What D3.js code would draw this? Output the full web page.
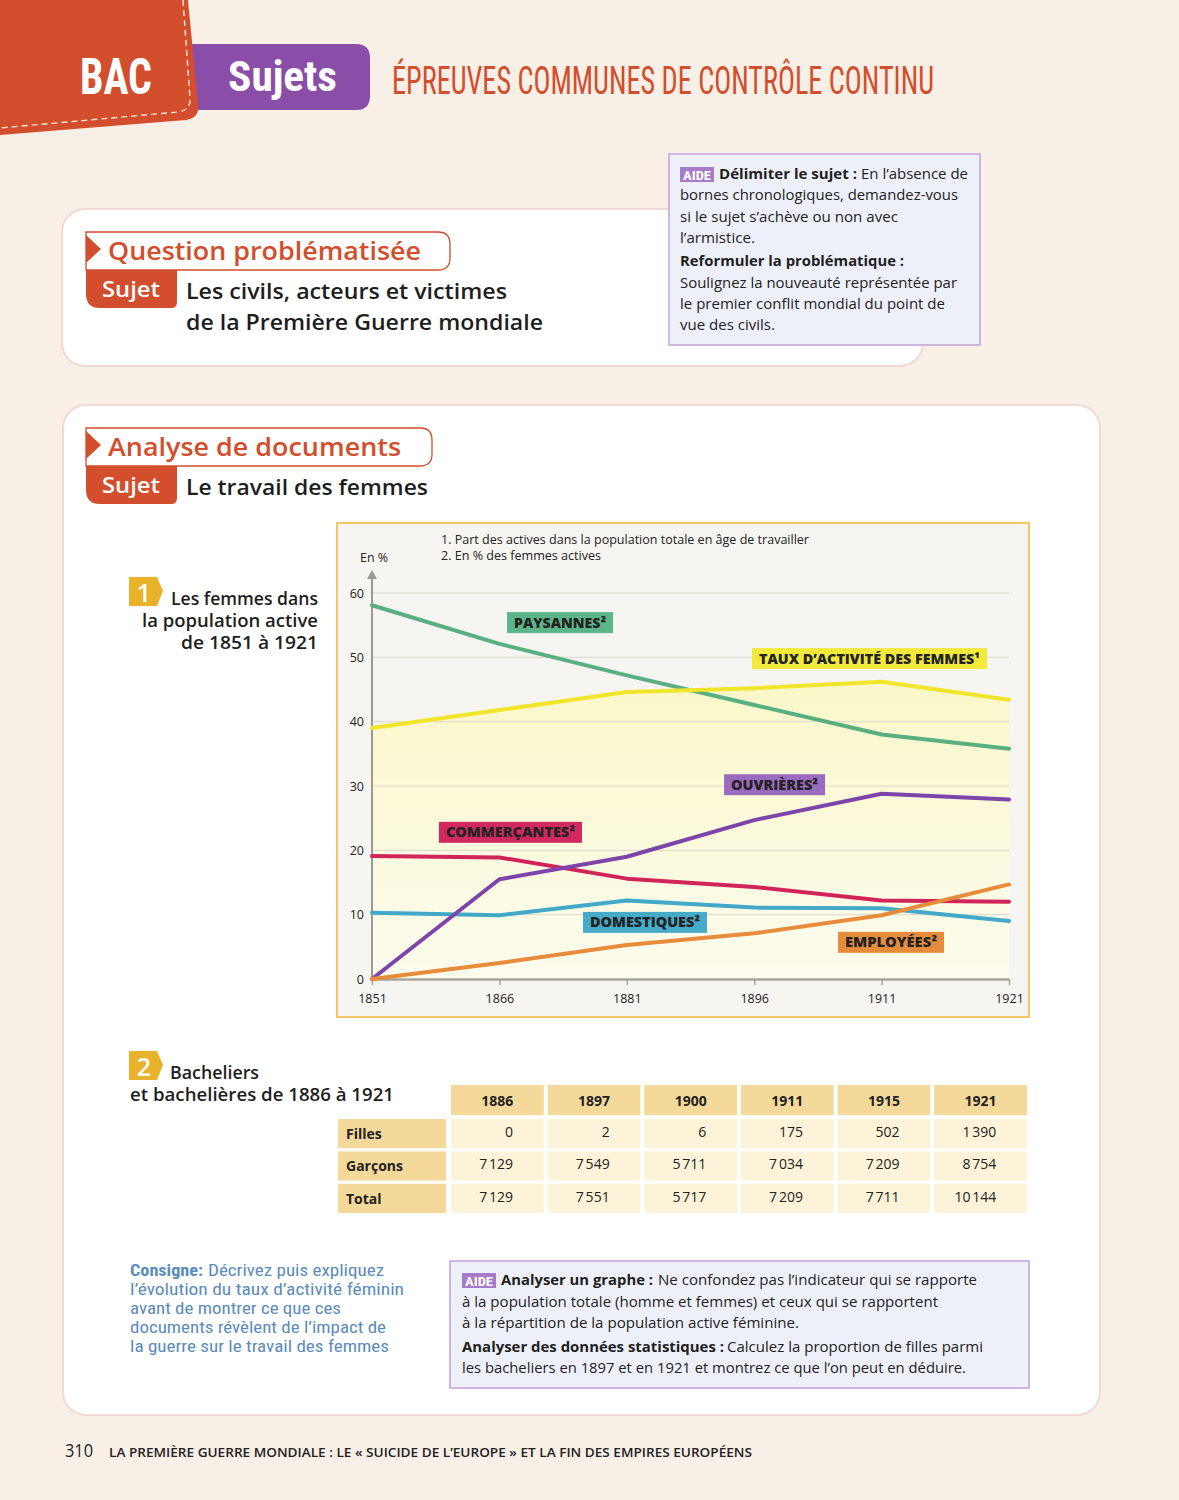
<!DOCTYPE html>
<html><head><meta charset="utf-8">
<script src="https://cdn.jsdelivr.net/npm/d3@7"></script>
<style>
html,body{margin:0;padding:0;background:#f8efe6;}
svg{display:block;}
</style></head>
<body>
<svg id="page" width="1179" height="1500"></svg>
<script>
// ---------- DATA ----------
const years = ["1851","1866","1881","1896","1911","1921"];
const paysannes    = [58.1, 52.1, 47.2, 42.6, 38.0, 35.8];
const tauxActivite = [39.0, 41.8, 44.6, 45.2, 46.2, 43.4];
const commercantes = [19.1, 18.9, 15.6, 14.3, 12.2, 12.0];
const domestiques  = [10.3, 9.9, 12.2, 11.1, 11.0, 9.0];
const ouvrieres    = [0.0, 15.5, 19.0, 24.7, 28.8, 27.9];
const employees    = [0.0, 2.5, 5.3, 7.1, 9.9, 14.7];
const yTicks = [0,10,20,30,40,50,60];

const tableYears = ["1886","1897","1900","1911","1915","1921"];
const rowLabels = ["Filles","Garçons","Total"];
const filles  = [0, 2, 6, 175, 502, 1390];
const garcons = [7129, 7549, 5711, 7034, 7209, 8754];
const totaux  = [7129, 7551, 5717, 7209, 7711, 10144];

const seriesNames = ["PAYSANNES²","TAUX D’ACTIVITÉ DES FEMMES¹","COMMERÇANTES²","DOMESTIQUES²","OUVRIÈRES²","EMPLOYÉES²"];

// ---------- HELPERS ----------
const svg = d3.select("#page");
const SANS = "'Open Sans','Noto Sans',sans-serif";
const COND = "'Roboto Condensed','Liberation Sans Narrow','Roboto',sans-serif";
function txt(g, x, y, s, o={}) {
  const t = g.append("text").attr("x", x).attr("y", y).text(s)
    .attr("font-family", o.family || SANS)
    .attr("font-size", o.size || 15)
    .attr("font-weight", o.weight || 400)
    .attr("fill", o.fill || "#222");
  if (o.anchor) t.attr("text-anchor", o.anchor);
  if (o.len) t.attr("textLength", o.len).attr("lengthAdjust", "spacingAndGlyphs");
  return t;
}
const RED = "#d24e2c";

// ---------- HEADER ----------
svg.append("rect").attr("x",0).attr("y",0).attr("width",1179).attr("height",1500).attr("fill","#f8efe6");
svg.append("path").attr("d","M150,44 H356 Q370,44 370,58 V96 Q370,110 356,110 H150 Z").attr("fill","#8b4ea8");
svg.append("path").attr("d","M0,0 H188 L198,104 Q200,118 186,120 L0,135 Z").attr("fill",RED);
svg.append("path").attr("d","M183,0 L190,98 Q191,110 178,112 L0,128").attr("fill","none")
  .attr("stroke","#fbe3d8").attr("stroke-width",1.4).attr("stroke-dasharray","6,4");
txt(svg, 80, 94, "BAC", {family:COND, size:50, weight:700, fill:"#fff", len:72});
txt(svg, 228, 91, "Sujets", {family:COND, size:42, weight:700, fill:"#fff", len:109});
txt(svg, 392, 94, "ÉPREUVES COMMUNES DE CONTRÔLE CONTINU", {family:COND, size:38, weight:400, fill:RED, len:542});

// ---------- CARD 1 ----------
function card(x,y,w,h){
  svg.append("rect").attr("x",x-2).attr("y",y-2).attr("width",w+4).attr("height",h+4).attr("rx",24)
    .attr("fill","#f2d9d6");
  svg.append("rect").attr("x",x).attr("y",y).attr("width",w).attr("height",h).attr("rx",22).attr("fill","#fff");
}
card(63,210,859,155);
function sectionHead(y, title, titleLen, boxRight, subj1, subj1Len, subj2, subj2Len){
  const g = svg.append("g");
  g.append("path").attr("d",`M86,${y} H${boxRight-12} Q${boxRight},${y} ${boxRight},${y+12} V${y+26} Q${boxRight},${y+38} ${boxRight-12},${y+38} H86 Z`)
    .attr("fill","#fff").attr("stroke",RED).attr("stroke-width",1.3);
  g.append("path").attr("d",`M86,${y+3} L101,${y+17} L86,${y+31} Z`).attr("fill",RED);
  txt(g, 108, y+28, title, {size:26, weight:600, fill:RED, len:titleLen});
  g.append("path").attr("d",`M86,${y+38} H177 V${y+70} Q177,${y+76} 171,${y+76} H100 Q86,${y+76} 86,${y+62} Z`).attr("fill",RED);
  txt(g, 102, y+65, "Sujet", {size:22, weight:600, fill:"#fff", len:58});
  txt(g, 186, y+67, subj1, {size:22, weight:600, fill:"#1e1e1e", len:subj1Len});
  if (subj2) txt(g, 186, y+98, subj2, {size:22, weight:600, fill:"#1e1e1e", len:subj2Len});
}
sectionHead(232, "Question problématisée", 313, 450, "Les civils, acteurs et victimes", 321, "de la Première Guerre mondiale", 357);

// AIDE box 1
function aideBadge(x,y){
  svg.append("rect").attr("x",x).attr("y",y).attr("width",34).attr("height",15).attr("fill","#a77bc9");
  txt(svg, x+17, y+12.5, "AIDE", {family:COND, size:13, weight:700, fill:"#fff", anchor:"middle", len:28});
}
svg.append("rect").attr("x",669).attr("y",154).attr("width",311).attr("height",191).attr("fill","#eef0f9")
  .attr("stroke","#c3a2d9").attr("stroke-width",1.5);
aideBadge(680,167);
txt(svg, 719, 179, "Délimiter le sujet :", {size:15, weight:700, fill:"#1e1e1e", len:138});
txt(svg, 861, 179, "En l’absence de", {size:15, fill:"#222", len:107});
txt(svg, 680, 200, "bornes chronologiques, demandez-vous", {size:15, fill:"#222", len:278});
txt(svg, 680, 222, "si le sujet s’achève ou non avec", {size:15, fill:"#222", len:218});
txt(svg, 680, 243, "l’armistice.", {size:15, fill:"#222", len:75});
txt(svg, 680, 266, "Reformuler la problématique :", {size:15, weight:700, fill:"#1e1e1e", len:224});
txt(svg, 680, 288, "Soulignez la nouveauté représentée par", {size:15, fill:"#222", len:277});
txt(svg, 680, 309, "le premier conflit mondial du point de", {size:15, fill:"#222", len:265});
txt(svg, 680, 330, "vue des civils.", {size:15, fill:"#222", len:95});

// ---------- CARD 2 ----------
card(64,406,1035,1008);
sectionHead(428, "Analyse de documents", 293, 432, "Le travail des femmes", 242);

function numBadge(x,y,n){
  svg.append("path").attr("d",`M${x},${y} H${x+28} L${x+34},${y+14} L${x+28},${y+29} H${x} Z`).attr("fill","#e8b22a");
  txt(svg, x+15, y+25, n, {size:25, weight:600, fill:"#fff", anchor:"middle"});
}
numBadge(129,577,"1");
txt(svg, 318, 605, "Les femmes dans", {size:18, weight:600, fill:"#1e1e1e", anchor:"end", len:147});
txt(svg, 318, 627, "la population active", {size:18, weight:600, fill:"#1e1e1e", anchor:"end", len:176});
txt(svg, 318, 649, "de 1851 à 1921", {size:18, weight:600, fill:"#1e1e1e", anchor:"end", len:137});

// ---------- CHART ----------
const chart = svg.append("g");
chart.append("rect").attr("x",337).attr("y",523).attr("width",692).attr("height",494)
  .attr("fill","#f6f5f2").attr("stroke","#f3c766").attr("stroke-width",2);

const x = d3.scalePoint().domain(years).range([372,1009]);
const xi = d3.scaleLinear().domain([0, years.length-1]).range([372,1009]);
const y = d3.scaleLinear().domain([0,60]).range([979,593]);

const defs = svg.append("defs");
const grad = defs.append("linearGradient").attr("id","areaGrad").attr("x1",0).attr("y1",0).attr("x2",0).attr("y2",1);
grad.append("stop").attr("offset","0%").attr("stop-color","#faf7c9");
grad.append("stop").attr("offset","100%").attr("stop-color","#fdfcee");

const area = d3.area().x((d,i)=>x(years[i])).y0(y(0)).y1(d=>y(d));
chart.append("path").datum(tauxActivite).attr("d",area).attr("fill","url(#areaGrad)");

// gridlines
chart.append("g").selectAll("line").data(yTicks.filter(d=>d>0)).join("line")
  .attr("x1",372).attr("x2",1009).attr("y1",d=>y(d)).attr("y2",d=>y(d))
  .attr("stroke","#d9d6cd").attr("stroke-width",1);

// y axis
const yAxis = d3.axisLeft(y).tickValues(yTicks).tickSize(0).tickPadding(8);
const gy = chart.append("g").attr("transform","translate(372,0)").call(yAxis);
gy.select(".domain").remove();
gy.selectAll("text").attr("font-family",SANS).attr("font-size",12.5).attr("fill","#222");
chart.append("line").attr("x1",372).attr("x2",372).attr("y1",979).attr("y2",576).attr("stroke","#9c9991").attr("stroke-width",2);
chart.append("path").attr("d","M367,579 L372,570 L377,579 Z").attr("fill","#9c9991");
txt(chart, 360, 562, "En %", {size:12, fill:"#222", len:28});

// x axis
const xAxis = d3.axisBottom(x).tickSize(6).tickPadding(9);
const gx = chart.append("g").attr("transform",`translate(0,${y(0)})`).call(xAxis);
gx.select(".domain").attr("stroke","#a7a49c").attr("stroke-width",2.5).attr("d","M372,0.5H1009");
gx.selectAll(".tick line").attr("stroke","#a7a49c").attr("stroke-width",1.5);
gx.selectAll("text").attr("font-family",SANS).attr("font-size",12.5).attr("fill","#222");

// notes
txt(chart, 441, 544, "1. Part des actives dans la population totale en âge de travailler", {size:12.5, fill:"#222", len:368});
txt(chart, 441, 560, "2. En % des femmes actives", {size:12.5, fill:"#222", len:160});

// lines
const series = [
  {name:seriesNames[0], values:paysannes,    color:"#5aaf81", box:"#5cb68a", at:[1.476,55.4], w:106},
  {name:seriesNames[1], values:tauxActivite, color:"#f0e52a", box:"#f3e93a", at:[3.905,49.8], w:235},
  {name:seriesNames[2], values:commercantes, color:"#d0245b", box:"#d22860", at:[1.087,22.8], w:143},
  {name:seriesNames[3], values:domestiques,  color:"#42a9c8", box:"#45abc9", at:[2.143,8.8],  w:124},
  {name:seriesNames[4], values:ouvrieres,    color:"#7d45a9", box:"#9a6bbf", at:[3.160,30.2], w:101},
  {name:seriesNames[5], values:employees,    color:"#e88b3b", box:"#e68d3d", at:[4.074,5.7],  w:106}
];
const line = d3.line().x((d,i)=>x(years[i])).y(d=>y(d));
chart.append("g").selectAll("path").data(series).join("path")
  .attr("d",d=>line(d.values)).attr("fill","none").attr("stroke",d=>d.color)
  .attr("stroke-width",4).attr("stroke-linejoin","round").attr("stroke-linecap","round");

// labels
const lab = chart.append("g").selectAll("g").data(series).join("g")
  .attr("transform",d=>`translate(${xi(d.at[0])},${y(d.at[1])})`);
lab.append("rect").attr("x",d=>-d.w/2).attr("y",-10.5).attr("width",d=>d.w).attr("height",21).attr("fill",d=>d.box);
lab.append("text").attr("text-anchor","middle").attr("y",5).attr("font-family",SANS).attr("font-weight",800)
  .attr("font-size",13.5).attr("fill","#222").text(d=>d.name)
  .attr("textLength",d=>d.w-14).attr("lengthAdjust","spacingAndGlyphs");

// ---------- TABLE ----------
numBadge(129,1051,"2");
txt(svg, 170, 1079, "Bacheliers", {size:18, weight:600, fill:"#1e1e1e", len:89});
txt(svg, 130, 1101, "et bachelières de 1886 à 1921", {size:18, weight:600, fill:"#1e1e1e", len:264});

const fr = d3.formatLocale({decimal:",", thousands:"\u202f", grouping:[3], currency:["","€"]});
const fmt = n => n >= 1000 ? fr.format(",")(n) : String(n);
const cx = d3.scaleBand().domain(tableYears).range([451,1027]).paddingInner(0.04);
const ry = d3.scaleBand().domain(rowLabels).range([1119,1213]).paddingInner(0.1);
const tbl = svg.append("g");
tbl.selectAll("rect.h").data(tableYears).join("rect").attr("class","h")
  .attr("x",d=>cx(d)).attr("y",1085).attr("width",cx.bandwidth()).attr("height",30).attr("fill","#f5d99b");
tbl.selectAll("text.h").data(tableYears).join("text").attr("class","h")
  .attr("x",d=>cx(d)+cx.bandwidth()/2).attr("y",1106).attr("text-anchor","middle")
  .attr("font-family",SANS).attr("font-weight",700).attr("font-size",14).attr("fill","#222").text(d=>d);
tbl.selectAll("rect.r").data(rowLabels).join("rect").attr("class","r")
  .attr("x",338).attr("y",d=>ry(d)).attr("width",108).attr("height",ry.bandwidth()).attr("fill","#f5d99b");
tbl.selectAll("text.r").data(rowLabels).join("text").attr("class","r")
  .attr("x",346).attr("y",d=>ry(d)+20).attr("font-family",SANS).attr("font-weight",700)
  .attr("font-size",14).attr("fill","#222").text(d=>d);
const rows = [filles, garcons, totaux];
rows.forEach((vals, ri) => {
  const r = rowLabels[ri];
  tbl.append("g").selectAll("rect").data(vals).join("rect")
    .attr("x",(d,i)=>cx(tableYears[i])).attr("y",ry(r)).attr("width",cx.bandwidth()).attr("height",ry.bandwidth())
    .attr("fill","#fdf3d8");
  tbl.append("g").selectAll("text").data(vals).join("text")
    .attr("x",(d,i)=>cx(tableYears[i])+62).attr("y",ry(r)+18).attr("text-anchor","end")
    .attr("font-family",SANS).attr("font-size",14).attr("fill","#222").text(d=>fmt(d));
});

// ---------- CONSIGNE ----------
const BLUE = "#5b8cbb";
txt(svg, 130, 1276, "Consigne:", {family:COND, size:16, weight:700, fill:BLUE, len:73});
txt(svg, 208, 1276, "Décrivez puis expliquez", {family:COND, size:16, fill:BLUE, len:176});
txt(svg, 130, 1295, "l’évolution du taux d’activité féminin", {family:COND, size:16, fill:BLUE, len:274});
txt(svg, 130, 1314, "avant de montrer ce que ces", {family:COND, size:16, fill:BLUE, len:211});
txt(svg, 130, 1333, "documents révèlent de l’impact de", {family:COND, size:16, fill:BLUE, len:256});
txt(svg, 130, 1352, "la guerre sur le travail des femmes", {family:COND, size:16, fill:BLUE, len:259});

// AIDE box 2
svg.append("rect").attr("x",450).attr("y",1261).attr("width",579).attr("height",127).attr("fill","#eef0f9")
  .attr("stroke","#c3a2d9").attr("stroke-width",1.5);
aideBadge(462,1273);
txt(svg, 501, 1285, "Analyser un graphe :", {size:15, weight:700, fill:"#1e1e1e", len:152});
txt(svg, 658, 1285, "Ne confondez pas l’indicateur qui se rapporte", {size:15, fill:"#222", len:319});
txt(svg, 462, 1307, "à la population totale (homme et femmes) et ceux qui se rapportent", {size:15, fill:"#222", len:476});
txt(svg, 462, 1328, "à la répartition de la population active féminine.", {size:15, fill:"#222", len:337});
txt(svg, 462, 1352, "Analyser des données statistiques :", {size:15, weight:700, fill:"#1e1e1e", len:262});
txt(svg, 727, 1352, "Calculez la proportion de filles parmi", {size:15, fill:"#222", len:256});
txt(svg, 462, 1373, "les bacheliers en 1897 et en 1921 et montrez ce que l’on peut en déduire.", {size:15, fill:"#222", len:504});

// ---------- FOOTER ----------
txt(svg, 65, 1457, "310", {size:19, fill:"#222", len:28});
txt(svg, 109, 1457, "LA PREMIÈRE GUERRE MONDIALE : LE « SUICIDE DE L’EUROPE » ET LA FIN DES EMPIRES EUROPÉENS", {size:13, weight:600, fill:"#222", len:643});
</script>
</body></html>
